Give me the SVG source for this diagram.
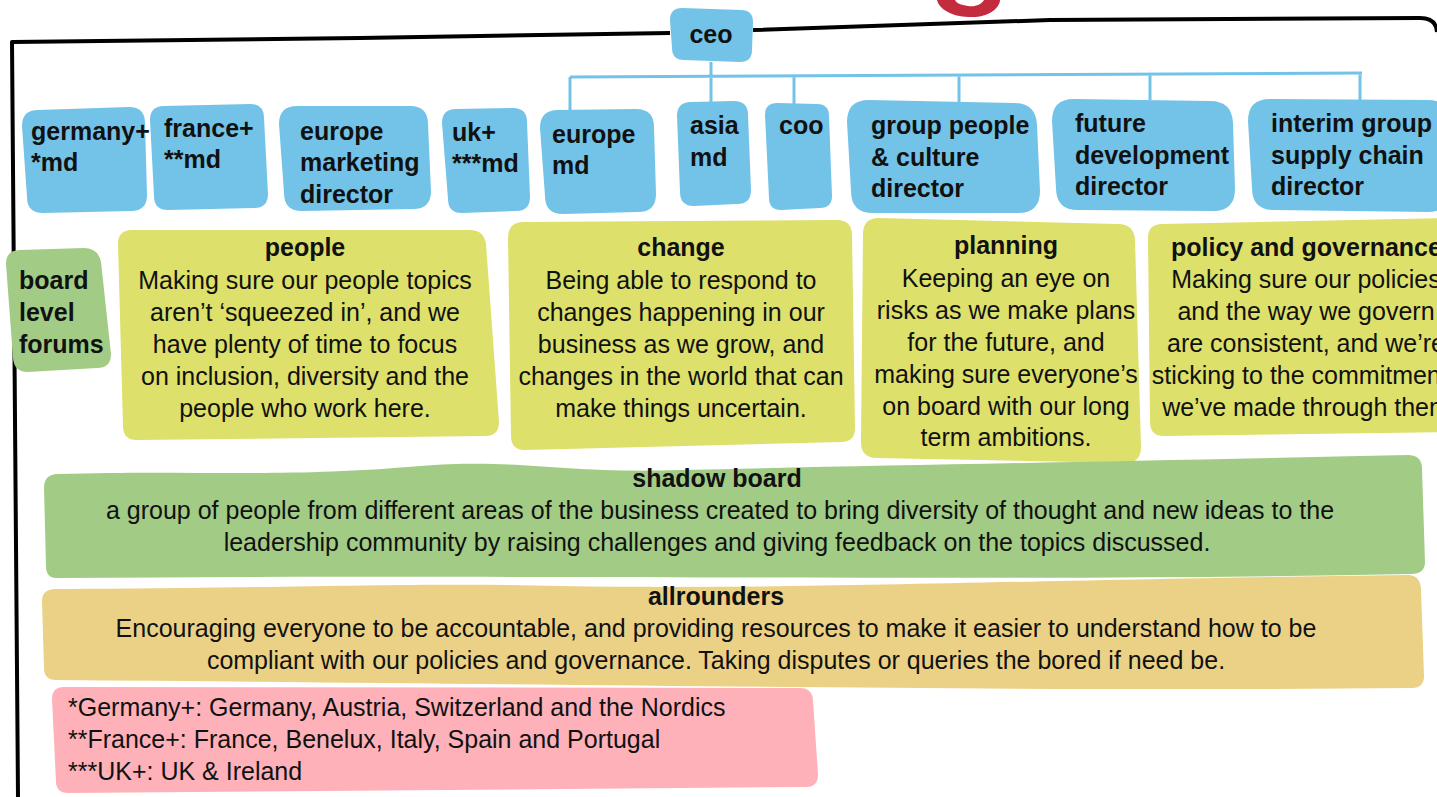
<svg xmlns="http://www.w3.org/2000/svg" width="1437" height="797" viewBox="0 0 1437 797">
<defs>
<style>
.blue{fill:#72c3e7}
.yel{fill:#dde06a}
.grn{fill:#a2cc85}
.tan{fill:#ebd185}
.pink{fill:#feb1b8}
.t{font-family:"Liberation Sans",Arial,sans-serif;font-size:25px;fill:#111}
.b{font-weight:bold}
.c{text-anchor:middle}
.con{fill:none;stroke:#72c3e7;stroke-width:3}
</style>
</defs>
<rect width="1437" height="797" fill="#fff"/>
<path d="M937,0 C940,12 958,18 975,17 C992,16 1000,6 1000,0 L984,0 C981,5 975,7 968,6 C961,5 956,3 955,0 Z" fill="#c42b3e"/>
<path d="M18,797 L12,42 L360,38 L670,33 M753,30 L1050,20 L1420,18 Q1436,18 1437,32" fill="none" stroke="#000" stroke-width="4" stroke-linejoin="round"/>
<g id="connectors">
<path class="con" d="M711,62 V77 M570,77 L1362,73 M570,77 V111 M711,77 V103 M794,76 V105 M959,76 V102 M1150,75 V100 M1360,73 V100"/>
</g>
<g id="ceo"><path class="blue" d="M682,8 L741,10 Q753,10 753,22 L752,50 Q752,62 740,62 L684,60 Q672,60 672,48 L670,20 Q670,8 682,8 Z"/><text class="t b c" x="711" y="43">ceo</text></g>
<g id="germany"><path class="blue" d="M38,110 L129,107 Q145,107 145,123 L147,195 Q147,211 131,211 L43,213 Q27,213 27,197 L22,126 Q22,110 38,110 Z"/><text class="t b" x="31" y="140">germany+</text><text class="t b" x="31" y="171">*md</text></g>
<g id="france"><path class="blue" d="M164,106 L250,104 Q264,104 264,118 L268,194 Q268,208 254,208 L168,210 Q154,210 154,196 L150,120 Q150,106 164,106 Z"/><text class="t b" x="164" y="137">france+</text><text class="t b" x="164" y="168">**md</text></g>
<g id="europe-marketing"><path class="blue" d="M297,106 L410,106 Q428,106 428,124 L431,191 Q431,209 413,209 L302,211 Q284,211 284,193 L279,124 Q279,106 297,106 Z"/><text class="t b" x="300" y="140">europe</text><text class="t b" x="300" y="171">marketing</text><text class="t b" x="300" y="203">director</text></g>
<g id="uk"><path class="blue" d="M456,109 L513,108 Q527,108 527,122 L530,197 Q530,211 516,211 L462,213 Q448,213 448,199 L442,123 Q442,109 456,109 Z"/><text class="t b" x="452" y="141">uk+</text><text class="t b" x="452" y="172">***md</text></g>
<g id="europe-md"><path class="blue" d="M558,110 L636,109 Q654,109 654,127 L656,194 Q656,212 638,212 L563,214 Q545,214 545,196 L540,128 Q540,110 558,110 Z"/><text class="t b" x="552" y="143">europe</text><text class="t b" x="552" y="174">md</text></g>
<g id="asia-md"><path class="blue" d="M691,102 L734,101 Q748,101 748,115 L751,190 Q751,204 737,204 L694,206 Q680,206 680,192 L677,116 Q677,102 691,102 Z"/><text class="t b" x="690" y="134">asia</text><text class="t b" x="690" y="166">md</text></g>
<g id="coo"><path class="blue" d="M777,103 L817,104 Q829,104 829,116 L832,196 Q832,208 820,208 L781,210 Q769,210 769,198 L765,115 Q765,103 777,103 Z"/><text class="t b" x="779" y="134">coo</text></g>
<g id="group-people"><path class="blue" d="M869,100 L1014,103 Q1036,103 1037,125 L1040,191 Q1040,213 1018,213 L873,213 Q851,213 851,191 L847,122 Q847,100 869,100 Z"/><text class="t b" x="871" y="134">group people</text><text class="t b" x="871" y="166">&amp; culture</text><text class="t b" x="871" y="197">director</text></g>
<g id="future-dev"><path class="blue" d="M1074,99 L1210,101 Q1232,101 1233,123 L1235,189 Q1235,211 1213,211 L1078,210 Q1056,210 1056,188 L1052,121 Q1052,99 1074,99 Z"/><text class="t b" x="1075" y="132">future</text><text class="t b" x="1075" y="164">development</text><text class="t b" x="1075" y="195">director</text></g>
<g id="interim"><path class="blue" d="M1270,99 L1428,100 Q1450,100 1450,122 L1450,190 Q1450,212 1428,212 L1274,210 Q1252,210 1252,188 L1248,121 Q1248,99 1270,99 Z"/><text class="t b" x="1271" y="132">interim group</text><text class="t b" x="1271" y="164">supply chain</text><text class="t b" x="1271" y="195">director</text></g>
<g id="board-level-forums"><path class="grn" d="M20,250 L84,248 Q98,248 101,262 L111,354 Q111,368 97,368 L28,372 Q14,372 13,358 L6,264 Q6,250 20,250 Z"/><text class="t b" x="19" y="289">board</text><text class="t b" x="19" y="321">level</text><text class="t b" x="19" y="353">forums</text></g>
<g id="people"><path class="yel" d="M132,230 L470,230 Q484,230 486,244 L499,422 Q499,436 485,436 L137,440 Q123,440 123,426 L118,244 Q118,230 132,230 Z"/><text class="t b c" x="305" y="256">people</text><text class="t c" x="305" y="289">Making sure our people topics</text><text class="t c" x="305" y="321">aren’t ‘squeezed in’, and we</text><text class="t c" x="305" y="353">have plenty of time to focus</text><text class="t c" x="305" y="385">on inclusion, diversity and the</text><text class="t c" x="305" y="417">people who work here.</text></g>
<g id="change"><path class="yel" d="M524,222 L837,220 Q851,220 852,234 L855,428 Q855,442 841,442 L525,450 Q511,450 511,436 L508,238 Q508,222 524,222 Z"/><text class="t b c" x="681" y="256">change</text><text class="t c" x="681" y="289">Being able to respond to</text><text class="t c" x="681" y="321">changes happening in our</text><text class="t c" x="681" y="353">business as we grow, and</text><text class="t c" x="681" y="385">changes in the world that can</text><text class="t c" x="681" y="417">make things uncertain.</text></g>
<g id="planning"><path class="yel" d="M879,218 L1118,224 Q1134,224 1135,240 L1141,447 Q1141,463 1125,463 L877,458 Q861,458 861,442 L863,234 Q863,218 879,218 Z"/><text class="t b c" x="1006" y="254">planning</text><text class="t c" x="1006" y="287">Keeping an eye on</text><text class="t c" x="1006" y="319">risks as we make plans</text><text class="t c" x="1006" y="351">for the future, and</text><text class="t c" x="1006" y="383">making sure everyone’s</text><text class="t c" x="1006" y="415">on board with our long</text><text class="t c" x="1006" y="446">term ambitions.</text></g>
<g id="policy"><path class="yel" d="M1162,224 L1450,218 L1450,432 L1164,436 Q1150,436 1150,422 L1148,238 Q1148,224 1162,224 Z"/><text class="t b" x="1171" y="256">policy and governance</text><text class="t c" x="1306" y="288">Making sure our policies</text><text class="t c" x="1306" y="320">and the way we govern</text><text class="t c" x="1306" y="352">are consistent, and we’re</text><text class="t c" x="1306" y="384">sticking to the commitments</text><text class="t c" x="1306" y="416">we’ve made through them</text></g>
<g id="shadow-board"><path class="grn" d="M58,474 C200,470 280,478 420,466 C520,458 560,474 680,470 C900,465 1100,462 1408,455 Q1422,455 1422,469 L1425,562 Q1425,574 1411,574 C1000,582 600,574 56,578 Q46,578 46,566 L44,488 Q44,474 58,474 Z"/><text class="t b c" x="717" y="487">shadow board</text><text class="t c" x="720" y="519">a group of people from different areas of the business created to bring diversity of thought and new ideas to the</text><text class="t c" x="717" y="551">leadership community by raising challenges and giving feedback on the topics discussed.</text></g>
<g id="allrounders"><path class="tan" d="M56,589 C300,588 420,582 560,586 C800,590 1000,580 1408,575 Q1420,575 1421,589 L1424,676 Q1424,688 1412,688 C1000,692 600,684 56,680 Q44,680 44,668 L42,601 Q42,589 56,589 Z"/><text class="t b c" x="716" y="605">allrounders</text><text class="t c" x="716" y="637">Encouraging everyone to be accountable, and providing resources to make it easier to understand how to be</text><text class="t c" x="716" y="669">compliant with our policies and governance. Taking disputes or queries the bored if need be.</text></g>
<g id="footnotes"><path class="pink" d="M64,687 L800,688 Q812,688 813,700 L818,775 Q818,787 806,787 L68,793 Q56,793 56,781 L52,699 Q52,687 64,687 Z"/><text class="t" x="68" y="716">*Germany+: Germany, Austria, Switzerland and the Nordics</text><text class="t" x="68" y="748">**France+: France, Benelux, Italy, Spain and Portugal</text><text class="t" x="68" y="780">***UK+: UK &amp; Ireland</text></g>
</svg>
